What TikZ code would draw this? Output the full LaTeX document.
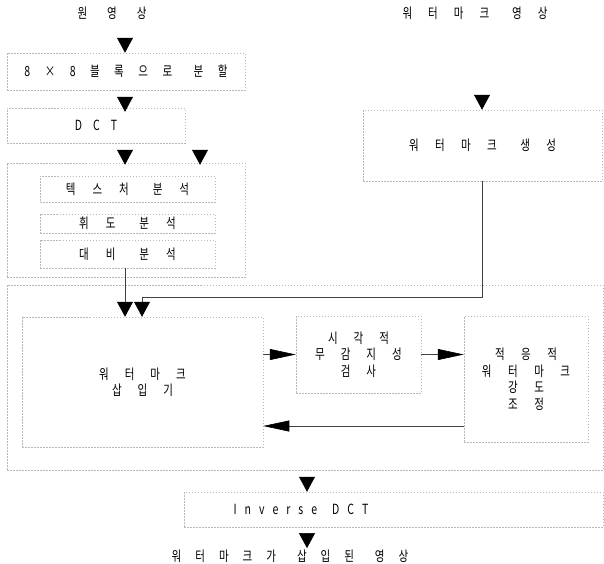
\documentclass[tikz,border=0pt]{standalone}
\usepackage{fontspec}
\setmainfont{Noto Sans CJK KR}[FakeStretch=0.75]
\usetikzlibrary{arrows.meta, positioning}

\tikzset{
  frame/.style={draw=gray!55, dash pattern=on 1.5pt off 1.5pt, line width=0.5pt, inner sep=0pt, align=center},
  kr/.style={font={\fontsize{14}{16.5}\selectfont\spaceskip=#1\relax}},
  varr/.style={-{Triangle[length=15pt,width=16pt,color=black]}, line width=0.6pt, draw=black!75},
  harr/.style={-{Triangle[length=26pt,width=11pt,color=black]}, line width=0.6pt, draw=black!75},
}
\newcommand\wgap{\hspace{7pt}}

\begin{document}
\begin{tikzpicture}[x=1pt, y=-1pt]
    \useasboundingbox (0,0) rectangle (604,563);

    % 입력 영상
    \node[kr=20pt] (src) at (112,13) {원 영 상};
    \node[kr=16pt] (wmimg) at (475,13) {워 터 마 크 \wgap 영 상};

    % 왼쪽 처리 흐름
    \node[frame, kr=14.5pt, minimum width=238pt, minimum height=37pt] (split) at (126,71.5) {8 × 8 블 록 으 로 \wgap 분 할};
    \node[frame, kr=11pt, minimum width=178pt, minimum height=35pt] (dct) at (96,125.5) {D C T};
    \node[frame, minimum width=238pt, minimum height=114pt] (ana) at (126,220) {};
    \node[frame, kr=17pt, minimum width=175pt, minimum height=26pt] (tex) at (127.5,189) {텍 스 처 \wgap 분 석};
    \node[frame, kr=17pt, minimum width=175pt, minimum height=19pt] (lum) at (127.5,223.5) {휘 도 \wgap 분 석};
    \node[frame, kr=17pt, minimum width=175pt, minimum height=28pt] (con) at (127.5,254) {대 비 \wgap 분 석};

    % 워터마크 생성
    \node[frame, kr=16.4pt, minimum width=239pt, minimum height=71pt] (gen) at (482.5,145.5) {워 터 마 크 \wgap 생 성};

    % 삽입 부분
    \node[frame, minimum width=596pt, minimum height=185pt] (embed) at (305,377.5) {};
    \node[frame, kr=16pt, minimum width=241pt, minimum height=130pt] (ins) at (142.5,382) {워 터 마 크\\삽 입 기};
    \node[frame, kr=16pt, minimum width=125pt, minimum height=77pt] (hvs) at (358.5,354.5) {시 각 적\\무 감 지 성\\검 사};
    \node[frame, kr=16.5pt, minimum width=124pt, minimum height=126pt] (adj) at (526,379) {적 응 적\\워 터 마 크\\강 도\\조 정};

    % 출력
    \node[frame, minimum width=419pt, minimum height=35pt] (idctbox) at (393.5,509.5) {};
    \node[kr=8pt] (idct) at (301,509) {I n v e r s e \wgap D C T};
    \node[kr=14pt] (out) at (290,556) {워 터 마 크 가 \wgap 삽 입 된 \wgap 영 상};

    % 화살표
    \coordinate (a1) at (125,38);
    \coordinate (a2) at (125,97);
    \coordinate (d1) at (125,150);
    \coordinate (d2) at (200,150);
    \coordinate (g1) at (482,95);
    \coordinate (j1) at (142,297);
    \coordinate (k1) at (307,477);
    \coordinate (k2) at (307,534);

    \draw[varr] (a1) -- (a1 |- split.north);
    \draw[varr] (a2) -- ([yshift=-4pt]a2 |- dct.north);
    \draw[varr] (d1) -- ([yshift=-2pt]d1 |- ana.north);
    \draw[varr] (d2) -- ([yshift=-2pt]d2 |- ana.north);
    \draw[varr] (g1) -- (g1 |- gen.north);
    \draw[varr] (con.south -| a1) -- (a1 |- ins.north);
    \draw[varr] (gen.south) |- (j1) -- (j1 |- ins.north);

    \draw[harr] (ins.east |- hvs.west) -- (hvs.west);
    \draw[harr] (hvs.east) -- (hvs.east -| adj.west);
    \draw[harr] ([yshift=-47pt]adj.west) -- ([yshift=-44pt]ins.east);

    \draw[varr] (k1) -- (k1 |- idctbox.north);
    \draw[varr] (k2) -- ([yshift=-2pt]k2 |- out.north);
\end{tikzpicture}
\end{document}
